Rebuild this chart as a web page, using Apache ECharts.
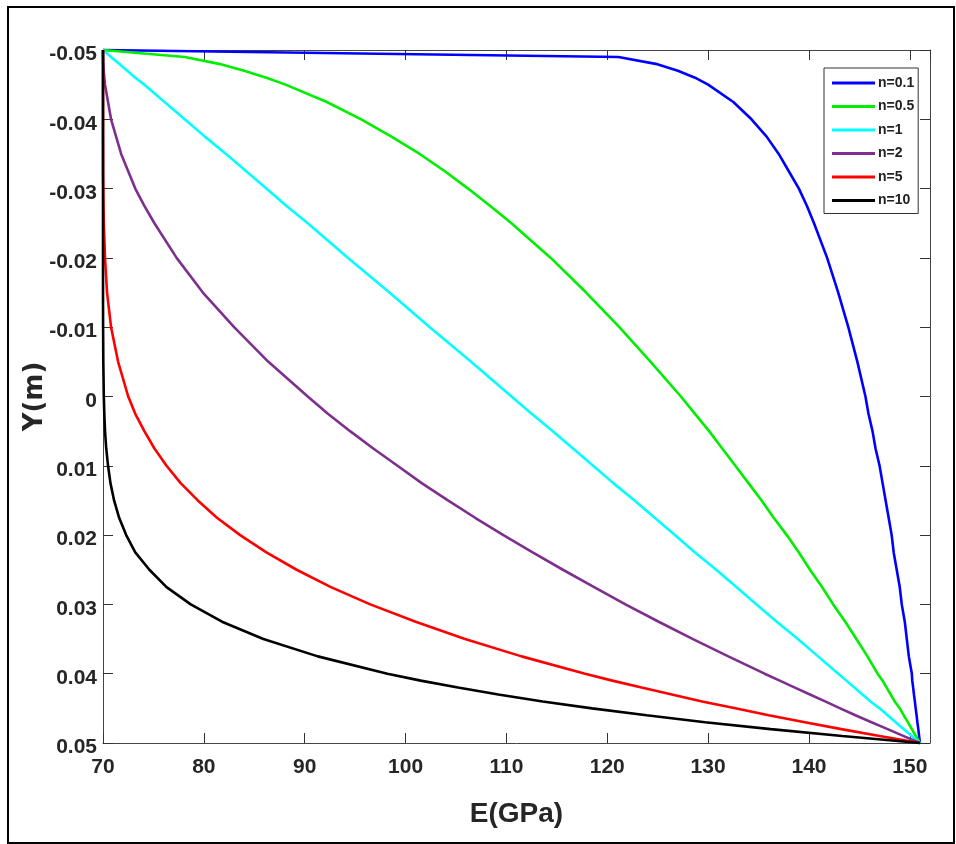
<!DOCTYPE html>
<html>
<head>
<meta charset="utf-8">
<script src="https://cdn.jsdelivr.net/npm/echarts@6/dist/echarts.min.js"></script>
<style>
  html, body { margin: 0; padding: 0; background: #fff; }
  #chart { width: 956px; height: 844px; }
</style>
</head>
<body>
<div id="chart"></div>
<script>
// Thickness coordinate Y (m)
const yPos = [-0.05,-0.049,-0.048,-0.047,-0.046,-0.045,-0.0425,-0.04,-0.0375,-0.035,-0.0325,-0.03,-0.0275,-0.025,-0.02,-0.015,-0.01,-0.005,0,0.0025,0.005,0.0075,0.01,0.0125,0.015,0.0175,0.02,0.0225,0.025,0.0275,0.03,0.0325,0.035,0.0375,0.04,0.041,0.042,0.043,0.044,0.045,0.046,0.047,0.048,0.049,0.05];
// Young's modulus E (GPa) for each power index n
const E_n01 = [70,121.1,124.8,127.0,128.7,130.0,132.5,134.3,135.8,137.0,138.0,139.0,139.8,140.5,141.8,142.9,143.9,144.8,145.6,145.9,146.3,146.6,147.0,147.3,147.6,147.9,148.2,148.4,148.7,149.0,149.2,149.5,149.7,149.9,150.2,150.24,150.33,150.41,150.5,150.58,150.67,150.75,150.84,150.92,151];
const E_n05 = [70,78.1,81.5,84.0,86.2,88.1,92.2,95.6,98.6,101.4,103.9,106.2,108.4,110.5,114.4,117.9,121.2,124.3,127.3,128.7,130.1,131.4,132.7,134.0,135.3,136.5,137.8,139.0,140.1,141.3,142.4,143.6,144.7,145.8,146.8,147.3,147.7,148.1,148.5,149.0,149.4,149.8,150.2,150.6,151];
const E_n1  = [70,70.8,71.6,72.4,73.2,74.1,76.1,78.1,80.1,82.2,84.2,86.2,88.2,90.3,94.3,98.4,102.4,106.5,110.5,112.5,114.6,116.6,118.6,120.6,122.7,124.7,126.7,128.7,130.8,132.8,134.8,136.8,138.9,140.9,142.9,143.7,144.5,145.3,146.1,147.0,147.8,148.6,149.4,150.2,151];
const E_n2  = [70,70.01,70.03,70.07,70.13,70.2,70.5,70.8,71.3,71.8,72.5,73.2,74.1,75.1,77.3,79.9,83.0,86.4,90.3,92.3,94.5,96.8,99.2,101.6,104.2,106.9,109.7,112.6,115.6,118.7,121.8,125.1,128.5,132.0,135.6,137.1,138.6,140.1,141.6,143.1,144.6,146.2,147.8,149.4,151];
const E_n5  = [70,70,70,70,70,70,70,70,70,70.01,70.01,70.03,70.05,70.08,70.2,70.4,70.8,71.5,72.5,73.2,74.1,75.1,76.3,77.7,79.4,81.3,83.6,86.2,89.2,92.6,96.5,101.0,105.9,111.5,117.8,120.5,123.4,126.4,129.4,132.7,136.0,139.6,143.2,147.0,151];
const E_n10 = [70,70,70,70,70,70,70,70,70,70,70,70,70,70,70,70,70.01,70.03,70.08,70.13,70.2,70.32,70.5,70.74,71.1,71.6,72.3,73.2,74.6,76.3,78.7,81.8,85.9,91.3,98.2,101.5,105.2,109.2,113.6,118.5,123.9,129.7,136.2,143.3,151];

const seriesNames = ['n=0.1','n=0.5','n=1','n=2','n=5','n=10'];
const seriesValues = [E_n01, E_n05, E_n1, E_n2, E_n5, E_n10];
const seriesColors = ['#0000ff','#00ee00','#00ffff','#7e2f8e','#ff0000','#000000'];

const xTicks = [70,80,90,100,110,120,130,140,150];
const yTicks = [-0.05,-0.04,-0.03,-0.02,-0.01,0,0.01,0.02,0.03,0.04,0.05];

const tickFont = {
  fontFamily: '"Liberation Sans",Arial,sans-serif',
  fontWeight: 'bold', fontSize: 21, color: '#262626'
};

const chart = echarts.init(document.getElementById('chart'), null, {renderer: 'canvas'});

chart.setOption({
  animation: false,
  backgroundColor: '#ffffff',
  grid: { left: 103, right: 26, top: 50, bottom: 101, show: false },
  graphic: [{
    type: 'rect', z: 100,
    shape: { x: 8, y: 7, width: 946, height: 836 },
    style: { fill: 'none', stroke: '#000', lineWidth: 2 }
  }],
  legend: {
    orient: 'vertical',
    left: 824, top: 68,
    padding: [7, 4, 5, 8],
    itemGap: 7.5,
    itemWidth: 43, itemHeight: 3,
    icon: 'rect',
    backgroundColor: '#fff',
    borderColor: '#333', borderWidth: 1,
    data: seriesNames,
    textStyle: {
      fontFamily: '"Liberation Sans",Arial,sans-serif',
      fontWeight: 'bold', fontSize: 14, color: '#222', lineHeight: 16, padding: [0,0,0,-2]
    }
  },
  xAxis: [{
    type: 'value', min: 70, max: 152, interval: 10,
    position: 'bottom',
    name: 'E(GPa)', nameLocation: 'middle', nameGap: 57,
    nameTextStyle: { fontFamily: '"Liberation Sans",Arial,sans-serif', fontWeight: 'bold', fontSize: 28, color: '#262626' },
    axisLine: { show: true, onZero: false, lineStyle: { color: '#444', width: 1 } },
    axisTick: { show: true, inside: true, length: 10, lineStyle: { color: '#333' } },
    splitLine: { show: false },
    axisLabel: Object.assign({ margin: 14, showMaxLabel: false,
      formatter: v => xTicks.indexOf(v) >= 0 ? String(v) : '' }, tickFont)
  }, {
    type: 'value', min: 70, max: 152, interval: 10,
    position: 'top',
    axisLine: { show: true, onZero: false, lineStyle: { color: '#444', width: 1 } },
    axisTick: { show: true, inside: true, length: 10, lineStyle: { color: '#333' } },
    axisLabel: { show: false }, splitLine: { show: false }
  }],
  yAxis: [{
    type: 'value', min: -0.05, max: 0.05, interval: 0.01, inverse: true,
    position: 'left',
    name: 'Y(m)', nameLocation: 'middle', nameGap: 55, nameRotate: 90,
    nameMoveOverlap: false,
    nameTextStyle: { fontFamily: '"DejaVu Sans",sans-serif', fontWeight: 'bold', fontSize: 26, color: '#262626' },
    axisLine: { show: true, onZero: false, lineStyle: { color: '#444', width: 1 } },
    axisTick: { show: true, inside: true, length: 10, lineStyle: { color: '#333' } },
    splitLine: { show: false },
    axisLabel: Object.assign({ margin: 6,
      formatter: v => { const r = Math.round(v * 100) / 100; return yTicks.indexOf(r) >= 0 ? '{a|' + String(r) + '}' : ''; },
      rich: { a: Object.assign({ padding: [9, 0, 0, 0] }, tickFont) } }, tickFont)
  }, {
    type: 'value', min: -0.05, max: 0.05, interval: 0.01, inverse: true,
    position: 'right',
    axisLine: { show: true, onZero: false, lineStyle: { color: '#444', width: 1 } },
    axisTick: { show: true, inside: true, length: 10, lineStyle: { color: '#333' } },
    axisLabel: { show: false }, splitLine: { show: false }
  }],
  series: seriesNames.map((name, i) => ({
    name: name,
    type: 'line',
    xAxisIndex: 0, yAxisIndex: 0,
    showSymbol: false,
    symbol: 'none',
    clip: false,
    color: seriesColors[i],
    lineStyle: { width: 2.6, color: seriesColors[i] },
    data: seriesValues[i].map((e, k) => [e, yPos[k]])
  }))
});
</script>
</body>
</html>
